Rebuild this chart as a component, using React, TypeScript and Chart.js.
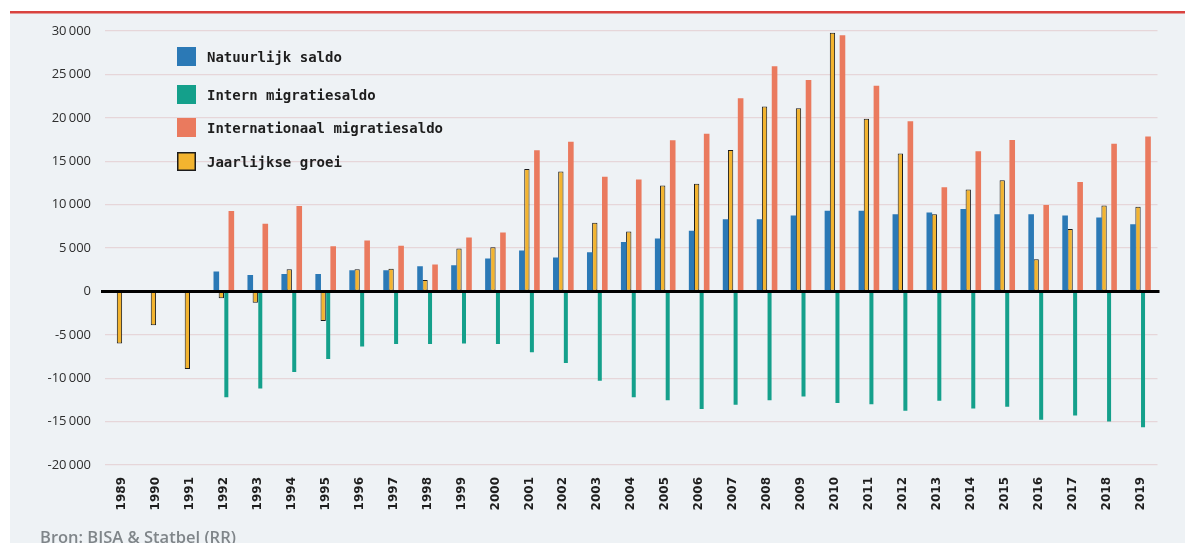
import React, { useEffect, useRef } from "react";
import { Chart, registerables } from "chart.js";

Chart.register(...registerables);

// Bevolkingsgroei per jaar en zijn componenten
const years = [
  "1989", "1990", "1991", "1992", "1993", "1994", "1995", "1996", "1997", "1998",
  "1999", "2000", "2001", "2002", "2003", "2004", "2005", "2006", "2007", "2008",
  "2009", "2010", "2011", "2012", "2013", "2014", "2015", "2016", "2017", "2018", "2019",
];

const natuurlijkSaldo = [
  null, null, null, 2300, 1900, 2000, 2000, 2450, 2450, 2900,
  3000, 3800, 4700, 3900, 4500, 5700, 6100, 7000, 8300, 8300,
  8750, 9300, 9300, 8900, 9100, 9500, 8900, 8900, 8750, 8500, 7750,
];

const internMigratiesaldo = [
  null, null, null, -12200, -11200, -9300, -7800, -6350, -6050, -6050,
  -6000, -6050, -7000, -8250, -10300, -12200, -12550, -13550, -13050, -12550,
  -12100, -12850, -13000, -13750, -12600, -13500, -13300, -14800, -14300, -15000, -15650,
];

const internationaalMigratiesaldo = [
  null, null, null, 9250, 7800, 9850, 5200, 5850, 5250, 3100,
  6200, 6800, 16250, 17250, 13200, 12900, 17400, 18150, 22250, 25950,
  24350, 29500, 23700, 19600, 12000, 16150, 17450, 9950, 12600, 17000, 17850,
];

const jaarlijkseGroei = [
  -6000, -3900, -8950, -800, -1300, 2550, -3400, 2550, 2600, 1300,
  4950, 5100, 14100, 13800, 7900, 6900, 12200, 12400, 16300, 21300,
  21100, 29800, 19900, 15900, 8900, 11750, 12800, 3700, 7200, 9900, 9750,
];

const yTicks = [-20000, -15000, -10000, -5000, 0, 5000, 10000, 15000, 20000, 25000, 30000];

const sourceNote = "Bron: BISA & Statbel (RR)";

const COLORS = {
  blue: "#2b79b6",
  teal: "#14a08b",
  orange: "#ea7a5e",
  yellow: "#f3b42f",
  outline: "#1c1c1c",
};

const W = 1185;
const H = 543;

function formatThousands(v: number): string {
  const sign = v < 0 ? "-" : "";
  const a = Math.abs(v);
  if (a < 1000) return sign + String(a);
  const th = Math.floor(a / 1000);
  const rest = String(a % 1000).padStart(3, "0");
  return sign + th + "\u2009" + rest;
}

// page backdrop: white strip, red rule, light panel
const backdropPlugin = {
  id: "backdrop",
  beforeDraw(chart: any) {
    const { ctx } = chart;
    ctx.save();
    ctx.fillStyle = "#ffffff";
    ctx.fillRect(0, 0, W, H);
    ctx.fillStyle = "#eef2f5";
    ctx.fillRect(10, 13, W - 10, H - 13);
    ctx.fillStyle = "#d9433f";
    ctx.fillRect(10, 11, W - 10, 2.5);
    ctx.restore();
  },
};

// heavy baseline at zero, drawn over the bars
const zeroLinePlugin = {
  id: "zeroLine",
  afterDatasetsDraw(chart: any) {
    const { ctx, chartArea, scales } = chart;
    const y = Math.round(scales.y.getPixelForValue(0)) + 0.5;
    ctx.save();
    ctx.strokeStyle = "#000000";
    ctx.lineWidth = 3;
    ctx.beginPath();
    ctx.moveTo(chartArea.left - 4, y);
    ctx.lineTo(chartArea.right + 2, y);
    ctx.stroke();
    ctx.restore();
  },
};

// legend block inside the plot, in the reading order of the series
const legendOrder = [0, 2, 3, 1];
const legendRows = [56, 94, 127, 161];

const legendBlockPlugin = {
  id: "legendBlock",
  afterDraw(chart: any) {
    const { ctx } = chart;
    ctx.save();
    ctx.font = "bold 14px 'DejaVu Sans Mono', monospace";
    ctx.textBaseline = "middle";
    ctx.textAlign = "left";
    legendOrder.forEach((dsIndex, i) => {
      const ds = chart.data.datasets[dsIndex];
      const cy = legendRows[i];
      ctx.fillStyle = ds.backgroundColor;
      ctx.fillRect(177, cy - 9, 19, 19);
      if (ds.borderWidth) {
        ctx.strokeStyle = COLORS.outline;
        ctx.lineWidth = 1.5;
        ctx.strokeRect(177.75, cy - 8.25, 17.5, 17.5);
      }
      ctx.fillStyle = "#1e1e1e";
      ctx.fillText(ds.label, 207, cy + 2);
    });
    ctx.restore();
  },
};

const sourcePlugin = {
  id: "sourceNote",
  afterDraw(chart: any) {
    const { ctx } = chart;
    ctx.save();
    ctx.font = "600 16.5px 'Open Sans', sans-serif";
    ctx.fillStyle = "#7f8589";
    ctx.textBaseline = "alphabetic";
    ctx.textAlign = "left";
    ctx.fillText(sourceNote, 40, 543);
    ctx.restore();
  },
};

export default function App() {
  const canvasRef = useRef<HTMLCanvasElement | null>(null);

  useEffect(() => {
    const canvas = canvasRef.current;
    if (!canvas) return;

    const catPct = 0.59;

    const chart = new Chart(canvas, {
      type: "bar",
      data: {
        labels: years,
        datasets: [
          {
            label: "Natuurlijk saldo",
            data: natuurlijkSaldo,
            backgroundColor: COLORS.blue,
            borderWidth: 0,
            barPercentage: 1.12,
            categoryPercentage: catPct,
          },
          {
            label: "Jaarlijkse groei",
            data: jaarlijkseGroei,
            backgroundColor: COLORS.yellow,
            borderColor: COLORS.outline,
            borderWidth: 1,
            borderSkipped: false,
            barPercentage: 1.06,
            categoryPercentage: catPct,
          },
          {
            label: "Intern migratiesaldo",
            data: internMigratiesaldo,
            backgroundColor: COLORS.teal,
            borderWidth: 0,
            barPercentage: 0.8,
            categoryPercentage: catPct,
          },
          {
            label: "Internationaal migratiesaldo",
            data: internationaalMigratiesaldo,
            backgroundColor: COLORS.orange,
            borderWidth: 0,
            barPercentage: 1.12,
            categoryPercentage: catPct,
          },
        ] as any,
      },
      options: {
        responsive: false,
        maintainAspectRatio: false,
        devicePixelRatio: 1,
        animation: false,
        events: [],
        layout: { padding: { top: 31, right: 27.5, bottom: 0, left: 0 } },
        plugins: {
          legend: { display: false },
          tooltip: { enabled: false },
          title: { display: false },
        },
        scales: {
          x: {
            type: "category",
            offset: true,
            grid: { display: false, drawTicks: false },
            border: { display: false },
            ticks: {
              autoSkip: false,
              minRotation: 90,
              maxRotation: 90,
              padding: 12,
              color: "#1e1e1e",
              font: { family: "'DejaVu Sans', sans-serif", weight: "bold", size: 12 },
            },
            afterFit(scale: any) {
              scale.height = 78;
            },
          },
          y: {
            type: "linear",
            min: yTicks[0],
            max: yTicks[yTicks.length - 1],
            afterBuildTicks(scale: any) {
              scale.ticks = yTicks.map((v) => ({ value: v }));
            },
            grid: {
              drawTicks: false,
              lineWidth: 1.2,
              color: (c: any) => (c.tick && c.tick.value === 0 ? "rgba(0,0,0,0)" : "#e6d6d9"),
            },
            border: { display: false },
            ticks: {
              padding: 14,
              color: "#2e2e2e",
              font: { family: "'Open Sans', sans-serif", size: 13 },
              callback: (v: any) => formatThousands(Number(v)),
            },
            afterFit(scale: any) {
              scale.width = 105;
            },
          },
        },
      },
      plugins: [backdropPlugin, zeroLinePlugin, legendBlockPlugin, sourcePlugin],
    });

    return () => chart.destroy();
  }, []);

  return (
    <div style={{ position: "absolute", left: 0, top: 0, width: W, height: H }}>
      <canvas ref={canvasRef} width={W} height={H} style={{ display: "block" }} />
    </div>
  );
}
